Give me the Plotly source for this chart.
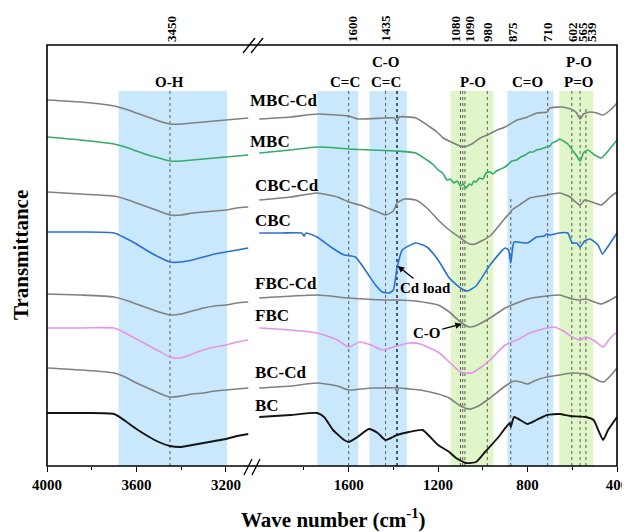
import plotly.graph_objects as go

# ---------------- data (wavenumber, transmittance a.u., offset-stacked) ----------------
LEFT_WN = [4000, 3850, 3700, 3650, 3600, 3550, 3500, 3450, 3400, 3350, 3300, 3250, 3200, 3150, 3100]

MBCCD_LEFT = [400, 398, 394, 391, 387, 383, 379, 376, 376, 377, 378, 379, 380, 381, 382]
MBC_LEFT = [363, 360, 356, 353, 349, 345, 342, 339, 339, 340, 341, 342, 343, 344, 345]
CBCCD_LEFT = [308, 306, 304, 301, 297, 293, 289, 285, 285, 287, 288, 289, 290, 292, 293]
CBC_LEFT = [268, 268, 267, 262, 256, 249, 243, 238, 238, 240, 243, 246, 248, 250, 252]
FBCCD_LEFT = [206, 205, 203, 200, 196, 192, 188, 185, 186, 189, 192, 194, 195, 197, 198]
FBC_LEFT = [172, 172, 172, 167, 161, 155, 149, 143, 142, 146, 150, 153, 155, 158, 160]
BCCD_LEFT = [132, 130, 127, 123, 117, 112, 107, 103, 104, 106, 107, 109, 110, 111, 112]
BC_LEFT = [87, 87, 86, 79, 71, 64, 58, 54, 53, 55, 57, 59, 61, 64, 66]

MBCCD_WN = [2000, 1860, 1741, 1600, 1557, 1440, 1395, 1384, 1375, 1300, 1236, 1200, 1177, 1132, 1087,
            1050, 1012, 980, 936, 900, 847, 800, 758, 713, 700, 642, 597, 580, 565, 550, 521, 490, 463, 430, 400]
MBCCD_T = [381, 383, 386, 384, 381, 382, 382, 378, 383, 382, 373, 367, 362, 357, 353,
           356, 362, 365, 370, 373, 380, 383, 387, 388, 392, 393, 390, 387, 381, 386, 388, 387, 385, 390, 397]

MBC_WN = [2000, 1860, 1741, 1650, 1600, 1500, 1384, 1300, 1250, 1220, 1200, 1180, 1160, 1145, 1130, 1115,
          1100, 1088, 1075, 1060, 1050, 1040, 1030, 1015, 1000, 985, 968, 955, 940, 920, 900, 885, 870, 850,
          830, 810, 790, 775, 760, 740, 713, 700, 690, 670, 656, 640, 620, 600, 580, 565, 550, 530, 500, 470,
          440, 400]
MBC_T = [347, 350, 353, 352, 351, 350, 349, 347, 340, 335, 330, 327, 320, 321, 317, 319,
         314, 316, 312, 316, 315, 319, 318, 322, 321, 327, 328, 326, 329, 331, 333, 336, 339, 340,
         343, 345, 348, 348, 350, 351, 353, 354, 357, 359, 361, 359, 356, 350, 344, 339, 347, 350, 345, 342,
         349, 360]

CBCCD_WN = [2000, 1860, 1741, 1650, 1600, 1550, 1480, 1435, 1400, 1384, 1350, 1300, 1250, 1200, 1150,
            1100, 1060, 1035, 968, 900, 875, 870, 830, 790, 713, 656, 610, 590, 565, 545, 500, 470, 430, 400]
CBCCD_T = [300, 303, 307, 303, 298, 295, 289, 285, 289, 297, 301, 300, 292, 280, 270,
           262, 256, 256, 264, 282, 288, 290, 296, 302, 305, 307, 303, 299, 295, 300, 297, 295, 303, 308]

CBC_WN = [2000, 1900, 1810, 1800, 1790, 1741, 1680, 1620, 1570, 1520, 1480, 1450, 1420, 1400, 1384,
          1360, 1300, 1250, 1200, 1150, 1100, 1070, 1030, 968, 900, 885, 875, 868, 860, 800,
          760, 725, 715, 700, 660, 620, 600, 580, 565, 545, 520, 485, 465, 445, 400]
CBC_T = [267, 267, 267, 264, 267, 263, 253, 245, 243, 228, 215, 208, 207, 210, 232,
         250, 257, 253, 240, 222, 212, 209, 214, 235, 252, 250, 237, 250, 258, 257,
         263, 264, 266, 265, 267, 267, 257, 257, 253, 259, 261, 255, 246, 252, 267]

FBCCD_WN = [2000, 1741, 1600, 1435, 1384, 1300, 1200, 1150, 1100, 1060, 1035, 968, 900, 870, 800,
            713, 656, 600, 565, 540, 470, 430, 400]
FBCCD_T = [202, 205, 202, 200, 200, 199, 195, 188, 178, 173, 174, 182, 192, 195, 201,
           204, 205, 201, 200, 201, 196, 200, 204]

FBC_WN = [2000, 1860, 1741, 1650, 1600, 1550, 1500, 1450, 1384, 1330, 1280, 1200, 1150, 1100, 1050,
          1000, 968, 900, 870, 830, 790, 713, 680, 640, 600, 565, 540, 500, 462, 430, 400]
FBC_T = [172, 170, 167, 160, 153, 158, 155, 150, 154, 157, 156, 148, 138, 128, 127,
         134, 140, 155, 158, 162, 167, 172, 173, 169, 163, 160, 163, 159, 153, 162, 168]

BCCD_WN = [2000, 1860, 1741, 1650, 1600, 1500, 1435, 1392, 1384, 1376, 1330, 1280, 1200, 1150, 1100,
           1060, 1020, 968, 900, 860, 830, 800, 760, 713, 656, 602, 540, 480, 460, 430, 400]
BCCD_T = [112, 114, 117, 114, 110, 112, 112, 112, 108, 112, 111, 110, 106, 102, 94,
          91, 94, 102, 114, 119, 118, 116, 120, 123, 125, 127, 126, 119, 118, 124, 132]

BC_WN = [2000, 1860, 1741, 1710, 1670, 1620, 1600, 1560, 1510, 1470, 1435, 1384, 1330, 1270, 1200,
         1150, 1120, 1075, 1030, 990, 930, 880, 875, 860, 800, 760, 713, 656, 610, 540,
         505, 480, 462, 440, 400]
BC_T = [83, 85, 87, 83, 70, 60, 58, 63, 71, 67, 60, 65, 68, 70, 55,
        48, 42, 37, 38, 48, 63, 77, 73, 83, 76, 80, 85, 86, 84, 83,
        80, 68, 60, 70, 83]

SERIES_NAMES = ["MBC-Cd", "MBC", "CBC-Cd", "CBC", "FBC-Cd", "FBC", "BC-Cd", "BC"]

# highlighted band regions (wavenumber ranges) and marker lines
BANDS_LEFT = [(3680, 3195, "blue")]
BANDS_RIGHT = [(1740, 1557, "blue"), (1507, 1340, "blue"), (1144, 953, "green"),
               (890, 685, "blue"), (658, 506, "green")]
PEAKS_LEFT = [3450]
PEAKS_RIGHT = [1600, 1435, 1100, 1090, 1080, 980, 875, 710, 602, 565, 539]
PEAK_DARK = 1384
TOP_LABELS = ["3450", "1600", "1435", "1080", "1090", "980", "875", "710", "602", "565", "539"]
BAND_LABELS = [("O-H", "x", 3450, 82), ("C=C", "x2", 1615, 82), ("C-O", "x2", 1435, 62),
               ("C=C", "x2", 1435, 82), ("P-O", "x2", 1045, 82), ("C=O", "x2", 799, 82),
               ("P-O", "x2", 571, 62), ("P=O", "x2", 571, 82)]

# ---------------- layout helpers ----------------
# target plot-area edges in screenshot pixels; the page body adds an 8px offset
OFF = 8
PL, PR, PT, PB = 47, 617, 45, 466
FIG_W, FIG_H = 630 - OFF, 532 - OFF
def fx(p):
    return (p - PL) / (PR - PL)
def fy(p):
    return (PB - p) / (PB - PT)
def ty(p):  # pixel row -> y data value
    return 500 - p

SERIF = "Liberation Serif"
BLUE_BAND = "rgb(202,232,251)"
GREEN_BAND = "rgb(224,246,200)"
GRAY = "rgb(128,128,128)"

series = [
    ("MBC-Cd", MBCCD_LEFT, MBCCD_WN, MBCCD_T, GRAY),
    ("MBC", MBC_LEFT, MBC_WN, MBC_T, "rgb(52,172,104)"),
    ("CBC-Cd", CBCCD_LEFT, CBCCD_WN, CBCCD_T, GRAY),
    ("CBC", CBC_LEFT, CBC_WN, CBC_T, "rgb(38,112,214)"),
    ("FBC-Cd", FBCCD_LEFT, FBCCD_WN, FBCCD_T, GRAY),
    ("FBC", FBC_LEFT, FBC_WN, FBC_T, "rgb(228,148,234)"),
    ("BC-Cd", BCCD_LEFT, BCCD_WN, BCCD_T, GRAY),
    ("BC", BC_LEFT, BC_WN, BC_T, "rgb(20,20,20)"),
]

fig = go.Figure()
for name, left, wn, t, col in series:
    w = 1.9 if name == "BC" else 1.6
    fig.add_trace(go.Scatter(x=LEFT_WN, y=left, xaxis="x", yaxis="y", mode="lines",
                             line=dict(color=col, width=w, shape="spline", smoothing=0.6),
                             showlegend=False, name=name))
    fig.add_trace(go.Scatter(x=wn, y=t, xaxis="x2", yaxis="y", mode="lines",
                             line=dict(color=col, width=w, shape="spline", smoothing=0.5),
                             showlegend=False, name=name))

shapes = []
band_top = fy(91)
for a, b, c in BANDS_LEFT:
    shapes.append(dict(type="rect", xref="x", yref="paper", x0=a, x1=b, y0=0, y1=band_top,
                       fillcolor=BLUE_BAND if c == "blue" else GREEN_BAND, line=dict(width=0), layer="below"))
for a, b, c in BANDS_RIGHT:
    shapes.append(dict(type="rect", xref="x2", yref="paper", x0=a, x1=b, y0=0, y1=band_top,
                       fillcolor=BLUE_BAND if c == "blue" else GREEN_BAND, line=dict(width=0), layer="below"))
for p in PEAKS_LEFT:
    shapes.append(dict(type="line", xref="x", yref="paper", x0=p, x1=p, y0=0, y1=band_top,
                       line=dict(color="rgb(90,90,90)", width=1, dash="dot"), layer="below"))
for p in PEAKS_RIGHT:
    top = band_top
    if p == 875:
        top = fy(197)
    elif p == 539:
        top = fy(107)
    shapes.append(dict(type="line", xref="x2", yref="paper", x0=p, x1=p, y0=0, y1=top,
                       line=dict(color="rgb(90,90,90)", width=1, dash="dot"), layer="below"))
shapes.append(dict(type="line", xref="x2", yref="paper", x0=PEAK_DARK, x1=PEAK_DARK, y0=0, y1=band_top,
                   line=dict(color="rgb(30,30,30)", width=1.4, dash="dot"), layer="below"))
# frame
shapes.append(dict(type="rect", xref="paper", yref="paper", x0=0, x1=1, y0=0, y1=1,
                   line=dict(color="black", width=1.6), fillcolor="rgba(0,0,0,0)", layer="above"))
# axis-break marks
for cx in (249, 257):
    shapes.append(dict(type="line", xref="paper", yref="paper", x0=fx(cx - 6), y0=fy(53),
                       x1=fx(cx + 6), y1=fy(38), line=dict(color="black", width=1.3)))
for cx in (248, 256):
    shapes.append(dict(type="line", xref="paper", yref="paper", x0=fx(cx - 4), y0=fy(475),
                       x1=fx(cx + 4), y1=fy(459), line=dict(color="black", width=1.3)))

ann = []
bold = dict(family=SERIF, size=15, color="black", weight="bold")
for txt, xr, xv, yp in BAND_LABELS:
    ann.append(dict(text=txt, xref=xr, yref="paper", x=xv, y=fy(yp), showarrow=False,
                    xanchor="center", yanchor="middle", font=bold))
label_pos = [(248, 100), (248, 141), (253, 185), (253, 220), (253, 283), (253, 316), (253, 372), (253, 405)]
for name, (lx, ly) in zip(SERIES_NAMES, label_pos):
    ann.append(dict(text=name, xref="paper", yref="paper", x=fx(lx), y=fy(ly), showarrow=False,
                    xanchor="left", yanchor="middle", font=dict(family=SERIF, size=17, color="black", weight="bold")))
top_px = [171, 352, 385, 455, 469, 487, 512, 547, 572, 582, 591]
for txt, p in zip(TOP_LABELS, top_px):
    ann.append(dict(text=txt, xref="paper", yref="paper", x=fx(p), y=fy(44), showarrow=False,
                    textangle=-90, xanchor="center", yanchor="bottom",
                    font=dict(family=SERIF, size=13, color="black", weight="bold")))
# Cd load and C-O pointers (text with arrow to the curve)
ann.append(dict(text="Cd load", xref="x2", yref="y", x=1381, y=ty(266), ax=28, ay=22, showarrow=True,
                arrowhead=2, arrowsize=1, arrowwidth=1.3, arrowcolor="black", font=bold))
ann.append(dict(text="C-O", xref="x2", yref="y", x=1094, y=ty(324), ax=-35, ay=9, showarrow=True,
                arrowhead=2, arrowsize=1, arrowwidth=1.3, arrowcolor="black", font=bold))
# axis titles
ann.append(dict(text="Wave number (cm<sup>-1</sup>)", xref="paper", yref="paper", x=fx(333), y=fy(518),
                showarrow=False, xanchor="center", yanchor="middle",
                font=dict(family=SERIF, size=21, color="black", weight="bold")))
ann.append(dict(text="Transmittance", xref="paper", yref="paper", x=fx(21), y=fy(255), textangle=-90,
                showarrow=False, xanchor="center", yanchor="middle",
                font=dict(family=SERIF, size=21, color="black", weight="bold")))

tickfont = dict(family=SERIF, size=15, color="black", weight="bold")
split = fx(253)
left_span = (253 - PL) / 0.2236
right_span = (PR - 253) / 0.2236
fig.update_layout(
    width=FIG_W, height=FIG_H,
    margin=dict(l=PL - OFF, r=FIG_W - (PR - OFF), t=PT - OFF, b=FIG_H - (PB - OFF), autoexpand=False),
    paper_bgcolor="white", plot_bgcolor="white",
    xaxis=dict(domain=[0, split], range=[4000, 4000 - left_span], tickvals=[4000, 3600, 3200], ticks="outside",
               ticklen=5, tickwidth=1.3, tickcolor="black", showgrid=False, zeroline=False, showline=False,
               tickfont=tickfont, anchor="y", automargin=False, ticklabeloverflow="allow",
               minor=dict(tickvals=[3800, 3400], ticks="outside", ticklen=3, tickwidth=1.2, tickcolor="black",
                          showgrid=False)),
    xaxis2=dict(domain=[split, 1], range=[400 + right_span, 400], tickvals=[1600, 1200, 800, 400],
                ticks="outside", ticklen=5, tickwidth=1.3, tickcolor="black", showgrid=False, zeroline=False,
                showline=False, tickfont=tickfont, anchor="y", automargin=False, ticklabeloverflow="allow",
                minor=dict(tickvals=[1800, 1400, 1000, 600], ticks="outside", ticklen=3, tickwidth=1.2,
                           tickcolor="black", showgrid=False)),
    yaxis=dict(range=[ty(PB), ty(PT)], showticklabels=False, ticks="", showgrid=False, zeroline=False,
               showline=False, automargin=False),
    shapes=shapes, annotations=ann,
)
fig.write_html("out.html")
